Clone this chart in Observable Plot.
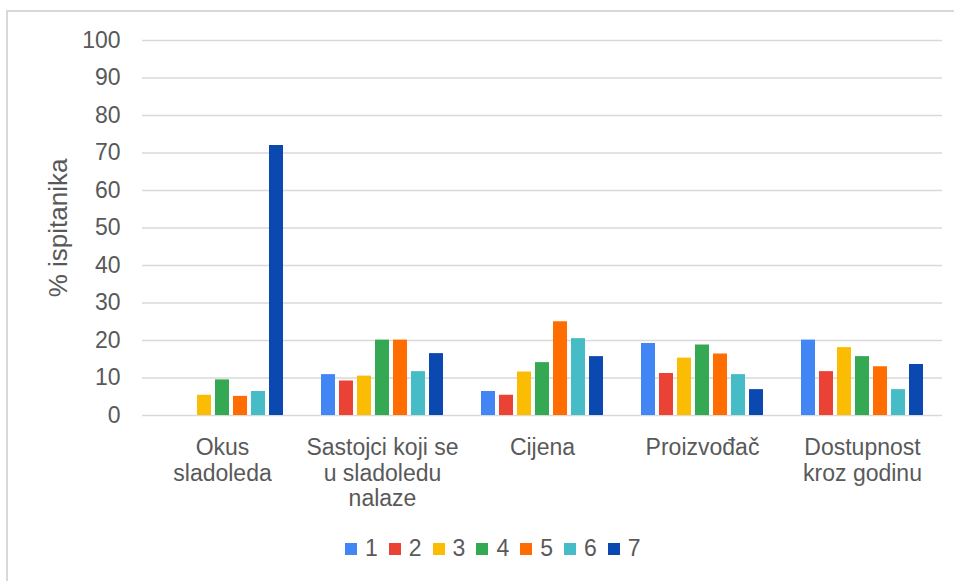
<!DOCTYPE html>
<html>
<head>
<meta charset="utf-8">
<script src="https://cdn.jsdelivr.net/npm/d3@7"></script>
<script src="https://cdn.jsdelivr.net/npm/@observablehq/plot@0.6"></script>
<style>
  html, body { margin: 0; padding: 0; background: #fff; }
  #wrap { position: relative; width: 954px; height: 581px; overflow: hidden; font-family: "Liberation Sans", Arial, sans-serif; }
  #border { position: absolute; left: 6px; top: 10px; width: 960px; height: 580px; border-top: 2px solid #d9d9d9; border-left: 2px solid #d9d9d9; box-sizing: border-box; }
  #chart { position: absolute; left: 0; top: 0; }
  #legend { position: absolute; left: 345px; top: 535px; display: flex; align-items: center; color: #595959; font-size: 23px; }
  .item { display: flex; align-items: center; margin-right: 11px; }
  .sw { width: 12px; height: 12px; margin-right: 8px; }
</style>
</head>
<body>
<div id="wrap">
  <div id="border"></div>
  <div id="chart"></div>
  <div id="legend"></div>
</div>
<script>
const categories = ["Okus sladoleda", "Sastojci koji se u sladoledu nalaze", "Cijena", "Proizvođač", "Dostupnost kroz godinu"];
const categoryLabels = ["Okus\nsladoleda", "Sastojci koji se\nu sladoledu\nnalaze", "Cijena", "Proizvođač", "Dostupnost\nkroz godinu"];
const series = ["1", "2", "3", "4", "5", "6", "7"];
const s1 = [0, 10.9, 6.4, 19.2, 20.1];
const s2 = [0, 9.2, 5.4, 11.2, 11.7];
const s3 = [5.4, 10.5, 11.6, 15.3, 18.1];
const s4 = [9.5, 20.1, 14.1, 18.8, 15.7];
const s5 = [5.1, 20.1, 25.0, 16.4, 13.0];
const s6 = [6.4, 11.7, 20.5, 10.9, 6.9];
const s7 = [72.0, 16.5, 15.7, 6.9, 13.6];
const yTicks = [0, 10, 20, 30, 40, 50, 60, 70, 80, 90, 100];
const colors = ["#4285F4", "#EA4335", "#FBBC04", "#34A853", "#FF6D01", "#46BDC6", "#0B48B0"];

const values = [s1, s2, s3, s4, s5, s6, s7];
const data = [];
categories.forEach((c, i) => {
  series.forEach((s, j) => {
    data.push({cat: c, s, v: values[j][i]});
  });
});
const labelOf = new Map(categories.map((c, i) => [c, categoryLabels[i]]));

const chart = Plot.plot({
  width: 954,
  height: 530,
  marginLeft: 142,
  marginRight: 12,
  marginTop: 40,
  marginBottom: 115,
  style: {fontFamily: "'Liberation Sans', Arial, sans-serif", fontSize: "23px", color: "#595959", background: "transparent"},
  fx: {domain: categories, paddingInner: 0, paddingOuter: 0, axis: null, label: null},
  x: {domain: series, paddingInner: 0.2, paddingOuter: 0.855, axis: null},
  y: {domain: [0, 100], ticks: yTicks, tickSize: 0, tickPadding: 22, label: "% ispitanika", labelArrow: "none", labelAnchor: "center", labelOffset: 94, line: false},
  color: {domain: series, range: colors},
  marks: [
    Plot.gridY(yTicks, {stroke: "#d9d9d9", strokeOpacity: 1, strokeWidth: 1.5}),
    Plot.barY(data, {fx: "cat", x: "s", y: "v", fill: "s"}),
    Plot.text(categories, {fx: d => d, frameAnchor: "bottom", text: d => labelOf.get(d), lineAnchor: "top", dy: 22, lineHeight: 1.1, fill: "#595959", fontSize: 23})
  ]
});
const yl = chart.querySelector('[aria-label="y-axis label"]');
if (yl) { yl.setAttribute("font-size", "26"); yl.style.fontSize = "26px"; yl.querySelectorAll("text").forEach(t => t.style.fontSize = "26px"); }
document.getElementById("chart").appendChild(chart);

const legend = document.getElementById("legend");
series.forEach((s, j) => {
  const it = document.createElement("div");
  it.className = "item";
  const sw = document.createElement("div");
  sw.className = "sw";
  sw.style.background = colors[j];
  const t = document.createElement("span");
  t.textContent = s;
  it.appendChild(sw);
  it.appendChild(t);
  legend.appendChild(it);
});
</script>
</body>
</html>
